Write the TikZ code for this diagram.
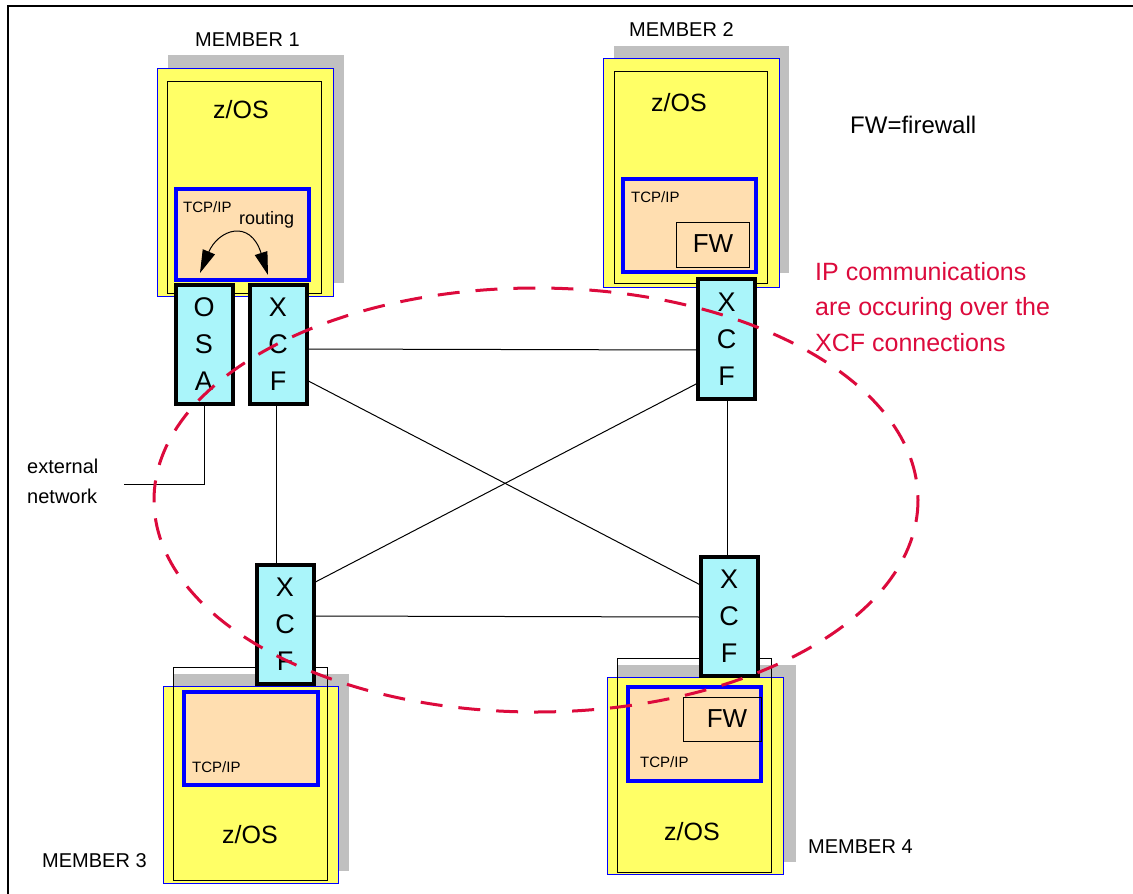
\documentclass[tikz,border=0pt]{standalone}
\usepackage{fontspec}
\setmainfont{Liberation Sans}
\usetikzlibrary{arrows.meta,fit}
\definecolor{zyellow}{RGB}{255,255,102}
\definecolor{zgray}{RGB}{192,192,192}
\definecolor{zpeach}{RGB}{255,222,176}
\definecolor{zcyan}{RGB}{170,245,250}
\definecolor{zred}{RGB}{220,10,60}
\definecolor{zblue}{RGB}{0,0,255}
\begin{document}
\begin{tikzpicture}[x=1pt,y=-1pt,
  box/.style={inner sep=0pt, outer sep=0pt},
  shadowbox/.style={box, fill=zgray},
  sysbox/.style={box, fill=zyellow, draw=zblue, line width=1pt},
  lparbox/.style={box, draw=black, line width=1pt},
  tcpbox/.style={box, fill=zpeach, draw=zblue, line width=3.5pt},
  fwbox/.style={box, draw=black, line width=1pt},
  xcfbox/.style={draw=black, line width=4pt, fill=zcyan, inner sep=0pt, outer sep=0pt,
     minimum width=57pt, minimum height=119pt, align=center, font=\fontsize{27}{37}\selectfont},
  link/.style={line width=1pt},
  memlbl/.style={inner sep=0pt, anchor=base west, font=\fontsize{20}{24}\selectfont},
  oslbl/.style={inner sep=0pt, anchor=base, font=\fontsize{25}{30}\selectfont},
  tcplbl/.style={inner sep=0pt, anchor=base west, font=\fontsize{15}{18}\selectfont},
  fwlbl/.style={inner sep=0pt, anchor=base, font=\fontsize{26}{30}\selectfont},
  redlbl/.style={inner sep=0pt, anchor=base west, text=zred, font=\fontsize{25}{30}\selectfont},
  ringline/.style={draw=zred, line width=3pt, dash pattern=on 22pt off 16pt},
  routearrow/.style={line width=1pt, {Triangle[length=23pt,width=13pt]}-{Triangle[length=23pt,width=13pt]}}
]
\useasboundingbox (0,0) rectangle (1133,894);
% frame
\draw[line width=1.5pt] (1133,6) -- (8,6) -- (8,894);

% ---------- MEMBER 1 ----------
\node[shadowbox, fit={(168,55) (344,283)}] (m1shadow) {};
\node[sysbox, fit={(157,68) (333,296)}] (m1sys) {};
\node[lparbox, fit={(167,81) (321,293)}] (m1lpar) {};
\node[tcpbox, fit={(176,189) (309,280)}] (m1tcp) {};
\node[oslbl] (m1os) at (241,118) {z/OS};
\node[tcplbl] (m1tcplbl) at (183,212) {TCP/IP};
\node[inner sep=0pt, anchor=base west, font=\fontsize{18}{22}\selectfont] (m1route) at (239,224) {routing};
\coordinate (r1) at (200,273);
\coordinate (r2) at (268,275);
\draw[routearrow] (r1) .. controls (218,230) and (250,218) .. (r2);
\node[memlbl] (m1lbl) at (195,46) {MEMBER 1};

% ---------- MEMBER 2 ----------
\node[shadowbox, fit={(614,46) (789,273)}] (m2shadow) {};
\node[sysbox, fit={(603,58) (779,287)}] (m2sys) {};
\node[lparbox, fit={(614,71) (767,283)}] (m2lpar) {};
\node[tcpbox, fit={(623,179) (756,272)}] (m2tcp) {};
\node[fwbox, fit={(676,222) (749,267)}] (m2fw) {};
\node[fwlbl] (m2fwlbl) at (713,252) {FW};
\node[oslbl] (m2os) at (679,111) {z/OS};
\node[tcplbl] (m2tcplbl) at (631,202) {TCP/IP};
\node[memlbl] (m2lbl) at (629,36) {MEMBER 2};

% ---------- MEMBER 3 ----------
\node[shadowbox, fit={(174,674) (349,871)}] (m3shadow) {};
\node[sysbox, fit={(163,686) (338,883)}] (m3sys) {};
\node[lparbox, fit={(173,667) (327,880)}] (m3lpar) {};
\node[tcpbox, fit={(184,692) (318,785)}] (m3tcp) {};
\node[oslbl] (m3os) at (250,843) {z/OS};
\node[tcplbl] (m3tcplbl) at (192,772) {TCP/IP};
\node[memlbl] (m3lbl) at (42,867) {MEMBER 3};

% ---------- MEMBER 4 ----------
\node[shadowbox, fit={(618,665) (796,862)}] (m4shadow) {};
\node[sysbox, fit={(607,677) (783,874)}] (m4sys) {};
\node[lparbox, fit={(617,658) (771,872)}] (m4lpar) {};
\node[tcpbox, fit={(628,687) (761,781)}] (m4tcp) {};
\node[fwbox, fit={(683,697) (761,741)}] (m4fw) {};
\node[fwlbl] (m4fwlbl) at (727,727) {FW};
\node[oslbl] (m4os) at (692,840) {z/OS};
\node[tcplbl] (m4tcplbl) at (640,767) {TCP/IP};
\node[memlbl] (m4lbl) at (808,853) {MEMBER 4};

% ---------- adapters ----------
\node[xcfbox] (osa) at (204,344.5) {O\\S\\A};
\node[xcfbox] (xcf1) at (278,344.5) {X\\C\\F};
\node[xcfbox, minimum height=120pt] (xcf2) at (726.5,339) {X\\C\\F};
\node[xcfbox] (xcf3) at (285,624.5) {X\\C\\F};
\node[xcfbox] (xcf4) at (729,616.5) {X\\C\\F};

% ---------- links ----------
\draw[link] ([yshift=-4.5pt]xcf1.east) -- ([yshift=-11pt]xcf2.west);
\draw[link] ([yshift=-35.5pt]xcf1.east) -- ([yshift=31.5pt]xcf4.west);
\draw[link] ([yshift=-44pt]xcf2.west) -- ([yshift=41.5pt]xcf3.east);
\draw[link] ([yshift=8.5pt]xcf3.east) -- ([yshift=-0.5pt]xcf4.west);
\draw[link] ([xshift=-2pt]xcf1.south) -- ([xshift=-9pt]xcf3.north);
\draw[link] ([xshift=0.5pt]xcf2.south) -- ([xshift=-2pt]xcf4.north);
\coordinate (ext) at (124,484);
\draw[link] (osa.south) |- (ext);
\node[inner sep=0pt, anchor=base west, font=\fontsize{20}{24}\selectfont] (extlbl1) at (27,473) {external};
\node[inner sep=0pt, anchor=base west, font=\fontsize{20}{24}\selectfont] (extlbl2) at (27,503) {network};

% ---------- legend / notes ----------
\node[inner sep=0pt, anchor=base west, font=\fontsize{24}{28}\selectfont] (legend) at (850,133) {FW=firewall};
\node[redlbl] (note1) at (815,280) {IP communications};
\node[redlbl] (note2) at (815,315) {are occuring over the};
\node[redlbl] (note3) at (815,351) {XCF connections};

% ---------- dashed ring ----------
\draw[ringline] (536,500) ellipse [x radius=382, y radius=212];
\end{tikzpicture}
\end{document}
